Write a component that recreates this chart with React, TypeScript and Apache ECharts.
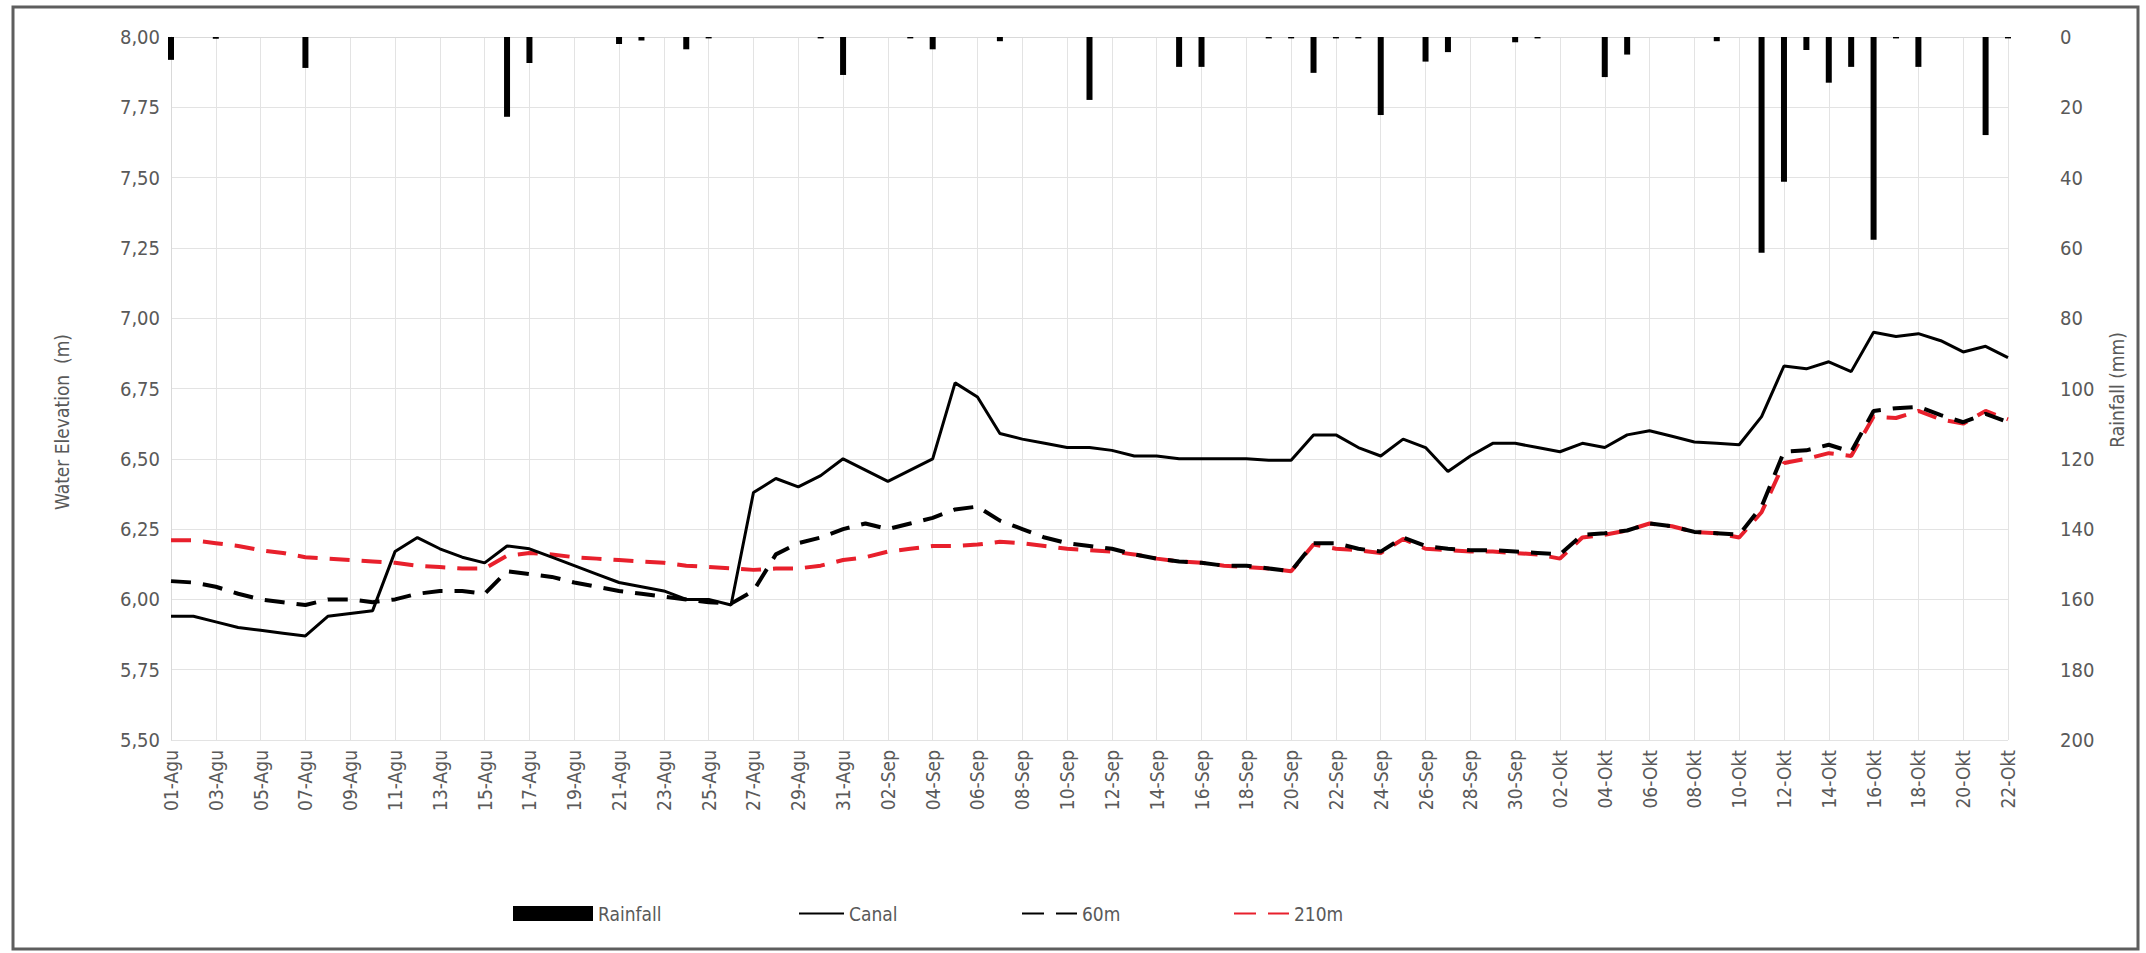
import React, { useEffect, useRef } from "react";
import * as echarts from "echarts";

const categories = [
  "01-Agu","02-Agu","03-Agu","04-Agu","05-Agu","06-Agu","07-Agu","08-Agu","09-Agu","10-Agu",
  "11-Agu","12-Agu","13-Agu","14-Agu","15-Agu","16-Agu","17-Agu","18-Agu","19-Agu","20-Agu",
  "21-Agu","22-Agu","23-Agu","24-Agu","25-Agu","26-Agu","27-Agu","28-Agu","29-Agu","30-Agu","31-Agu",
  "01-Sep","02-Sep","03-Sep","04-Sep","05-Sep","06-Sep","07-Sep","08-Sep","09-Sep","10-Sep",
  "11-Sep","12-Sep","13-Sep","14-Sep","15-Sep","16-Sep","17-Sep","18-Sep","19-Sep","20-Sep",
  "21-Sep","22-Sep","23-Sep","24-Sep","25-Sep","26-Sep","27-Sep","28-Sep","29-Sep","30-Sep",
  "01-Okt","02-Okt","03-Okt","04-Okt","05-Okt","06-Okt","07-Okt","08-Okt","09-Okt","10-Okt",
  "11-Okt","12-Okt","13-Okt","14-Okt","15-Okt","16-Okt","17-Okt","18-Okt","19-Okt","20-Okt",
  "21-Okt","22-Okt"
];

const rainfall = [
  6.5, 0, 0.5, 0, 0, 0, 8.8, 0, 0, 0,
  0, 0, 0, 0, 0, 22.7, 7.4, 0, 0, 0,
  2, 1, 0, 3.5, 0.4, 0, 0, 0, 0, 0.4, 10.8,
  0, 0, 0.4, 3.5, 0, 0, 1.2, 0, 0, 0,
  17.9, 0, 0, 0, 8.5, 8.5, 0, 0, 0.4, 0.4,
  10.2, 0.4, 0.4, 22.2, 0, 7, 4.3, 0, 0, 1.5,
  0.4, 0, 0, 11.4, 5, 0, 0, 0, 1.2, 0,
  61.4, 41.2, 3.7, 13, 8.5, 57.7, 0.4, 8.5, 0, 0,
  27.9, 0.4
];

const canal = [
  5.94, 5.94, 5.92, 5.90, 5.89, 5.88, 5.87, 5.94, 5.95, 5.96,
  6.17, 6.22, 6.18, 6.15, 6.13, 6.19, 6.18, 6.15, 6.12, 6.09,
  6.06, 6.045, 6.03, 6.00, 6.00, 5.98, 6.38, 6.43, 6.40, 6.44, 6.50,
  6.46, 6.42, 6.46, 6.50, 6.77, 6.72, 6.59, 6.57, 6.555, 6.54,
  6.54, 6.53, 6.51, 6.51, 6.50, 6.50, 6.50, 6.50, 6.495, 6.495,
  6.585, 6.585, 6.54, 6.51, 6.57, 6.54, 6.455, 6.51, 6.555, 6.555,
  6.54, 6.525, 6.555, 6.54, 6.585, 6.60, 6.58, 6.56, 6.555, 6.55,
  6.65, 6.83, 6.82, 6.845, 6.81, 6.95, 6.935, 6.945, 6.92, 6.88,
  6.90, 6.86
];

const well60m = [
  6.065, 6.06, 6.045, 6.02, 6.00, 5.99, 5.98, 6.00, 6.00, 5.99,
  6.00, 6.02, 6.03, 6.03, 6.02, 6.10, 6.09, 6.08, 6.06, 6.045,
  6.03, 6.02, 6.01, 6.00, 5.99, 5.985, 6.03, 6.16, 6.20, 6.22, 6.25,
  6.27, 6.25, 6.27, 6.29, 6.32, 6.33, 6.28, 6.25, 6.22, 6.20,
  6.19, 6.18, 6.16, 6.145, 6.135, 6.13, 6.12, 6.12, 6.11, 6.10,
  6.20, 6.20, 6.18, 6.17, 6.22, 6.19, 6.18, 6.175, 6.175, 6.17,
  6.165, 6.16, 6.23, 6.235, 6.245, 6.27, 6.26, 6.24, 6.235, 6.23,
  6.33, 6.525, 6.53, 6.55, 6.525, 6.67, 6.68, 6.685, 6.655, 6.63,
  6.66, 6.63
];

const well210m = [
  6.21, 6.21, 6.20, 6.19, 6.175, 6.165, 6.15, 6.145, 6.14, 6.135,
  6.13, 6.12, 6.115, 6.11, 6.11, 6.155, 6.165, 6.16, 6.15, 6.145,
  6.14, 6.135, 6.13, 6.12, 6.115, 6.11, 6.105, 6.11, 6.11, 6.12, 6.14,
  6.15, 6.17, 6.18, 6.19, 6.19, 6.195, 6.205, 6.20, 6.19, 6.18,
  6.175, 6.17, 6.16, 6.145, 6.135, 6.13, 6.12, 6.115, 6.11, 6.10,
  6.195, 6.18, 6.175, 6.165, 6.215, 6.18, 6.175, 6.17, 6.17, 6.165,
  6.16, 6.145, 6.22, 6.23, 6.245, 6.27, 6.26, 6.24, 6.235, 6.22,
  6.31, 6.485, 6.50, 6.52, 6.51, 6.65, 6.645, 6.67, 6.64, 6.625,
  6.67, 6.64
];

const elevationMin = 5.5;
const elevationMax = 8.0;
const elevationStep = 0.25;
const rainMin = 0;
const rainMax = 200;
const rainStep = 20;

const FONT = "'DejaVu Sans Condensed', 'Liberation Sans Narrow', 'Liberation Sans', sans-serif";
const GRAY = "#595959";
const DASH = [20, 12];

const legendText = { fontFamily: FONT, fontSize: 19, color: GRAY };

export default function App() {
  const ref = useRef<HTMLDivElement>(null);
  useEffect(() => {
    if (!ref.current) return;
    const chart = echarts.init(ref.current, null, { renderer: "svg" });
    chart.setOption({
      animation: false,
      backgroundColor: "#ffffff",
      textStyle: { fontFamily: FONT },
      grid: { left: 171, right: 138, top: 37, bottom: 213, containLabel: false },
      legend: [
        {
          left: 508,
          top: 899,
          itemWidth: 80,
          itemHeight: 15,
          textStyle: legendText,
          data: [{ name: "Rainfall", icon: "rect" }]
        },
        {
          left: 793,
          top: 899,
          itemWidth: 45,
          itemHeight: 15,
          textStyle: legendText,
          data: [{ name: "Canal", itemStyle: { opacity: 0 } }]
        },
        {
          left: 1016,
          top: 899,
          itemWidth: 55,
          itemHeight: 15,
          textStyle: legendText,
          data: [{ name: "60m", itemStyle: { opacity: 0 }, lineStyle: { type: [22, 12] } }]
        },
        {
          left: 1228,
          top: 899,
          itemWidth: 55,
          itemHeight: 15,
          textStyle: legendText,
          data: [{ name: "210m", itemStyle: { opacity: 0 }, lineStyle: { type: [22, 12] } }]
        }
      ],
      graphic: [
        {
          type: "rect",
          shape: { x: 13, y: 7, width: 2125, height: 942 },
          style: { fill: "none", stroke: "#5e5e5e", lineWidth: 3 },
          silent: true
        },
        {
          type: "text",
          x: 62,
          y: 422,
          rotation: Math.PI / 2,
          style: {
            text: "Water Elevation  (m)",
            fontFamily: FONT,
            fontSize: 19,
            fill: GRAY,
            align: "center",
            verticalAlign: "middle"
          }
        },
        {
          type: "text",
          x: 2117,
          y: 390,
          rotation: Math.PI / 2,
          style: {
            text: "Rainfall (mm)",
            fontFamily: FONT,
            fontSize: 19,
            fill: GRAY,
            align: "center",
            verticalAlign: "middle"
          }
        }
      ],
      xAxis: {
        type: "category",
        data: categories,
        boundaryGap: false,
        axisLine: { show: true, lineStyle: { color: "#d9d9d9" } },
        axisTick: { show: false },
        axisLabel: {
          interval: 1,
          rotate: 90,
          margin: 10,
          fontFamily: FONT,
          fontSize: 19,
          color: GRAY
        },
        splitLine: { show: true, interval: 1, lineStyle: { color: "#e3e3e3", width: 1 } }
      },
      yAxis: [
        {
          type: "value",
          min: elevationMin,
          max: elevationMax,
          interval: elevationStep,
          axisLine: { show: true, lineStyle: { color: "#d9d9d9" } },
          axisTick: { show: false },
          axisLabel: {
            margin: 11,
            fontFamily: FONT,
            fontSize: 20,
            color: GRAY,
            formatter: (v: number) => v.toFixed(2).replace(".", ",")
          },
          splitLine: { show: true, lineStyle: { color: "#e3e3e3", width: 1 } }
        },
        {
          type: "value",
          min: rainMin,
          max: rainMax,
          interval: rainStep,
          inverse: true,
          position: "right",
          axisLine: { show: false },
          axisTick: { show: false },
          axisLabel: {
            margin: 52,
            fontFamily: FONT,
            fontSize: 20,
            color: GRAY
          },
          splitLine: { show: false }
        }
      ],
      series: [
        {
          name: "Rainfall",
          type: "bar",
          yAxisIndex: 1,
          data: rainfall,
          barWidth: 6,
          itemStyle: { color: "#000000" },
          z: 3
        },
        {
          name: "Canal",
          type: "line",
          data: canal,
          symbol: "none",
          lineStyle: { color: "#000000", width: 3 },
          itemStyle: { color: "#000000" },
          z: 5
        },
        {
          name: "210m",
          type: "line",
          data: well210m,
          symbol: "none",
          lineStyle: { color: "#e8202c", width: 4, type: DASH },
          itemStyle: { color: "#e8202c" },
          z: 4
        },
        {
          name: "60m",
          type: "line",
          data: well60m,
          symbol: "none",
          lineStyle: { color: "#000000", width: 4, type: DASH },
          itemStyle: { color: "#000000" },
          z: 4
        }
      ]
    });
    return () => chart.dispose();
  }, []);
  return (
    <div
      ref={ref}
      style={{ position: "fixed", left: 0, top: 0, width: 2146, height: 953, background: "#fff" }}
    />
  );
}
